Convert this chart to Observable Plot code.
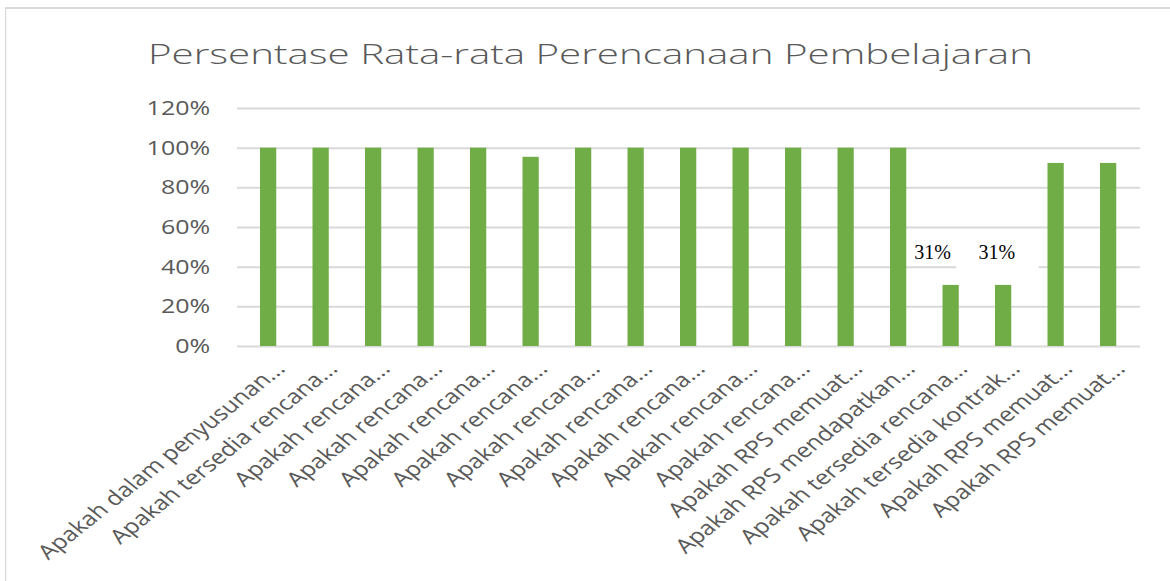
<!DOCTYPE html>
<html>
<head>
<meta charset="utf-8">
<script src="https://cdn.jsdelivr.net/npm/d3@7"></script>
<script src="https://cdn.jsdelivr.net/npm/@observablehq/plot@0.6"></script>
<style>
  html, body { margin: 0; padding: 0; background: #fff; }
  body { width: 1170px; height: 581px; overflow: hidden; }
  #wrap { position: relative; width: 936px; height: 581px; transform: scaleX(1.25); transform-origin: 0 0; }
  #frame { position: absolute; left: 4.4px; top: 7px; width: 1000px; height: 700px;
           border-left: 1.8px solid #d9d9d9; border-top: 2.5px solid #d9d9d9; }
  #title { position: absolute; left: 0; top: 0; }
  #chart { position: absolute; left: 0; top: 90px; }
</style>
</head>
<body>
<div id="wrap">
  <div id="frame"></div>
  <svg id="title" width="936" height="90">
    <text x="118.4" y="64" textLength="708" lengthAdjust="spacingAndGlyphs"
          font-family="Open Sans" font-weight="300" font-size="28" fill="#595959">Persentase Rata-rata Perencanaan Pembelajaran</text>
  </svg>
  <div id="chart"></div>
</div>
<script>
// ---- data ----
const categories = [
  "Apakah dalam penyusunan...",
  "Apakah tersedia rencana...",
  "Apakah rencana...",
  "Apakah rencana...",
  "Apakah rencana...",
  "Apakah rencana...",
  "Apakah rencana...",
  "Apakah rencana...",
  "Apakah rencana...",
  "Apakah rencana...",
  "Apakah rencana...",
  "Apakah RPS memuat...",
  "Apakah RPS mendapatkan...",
  "Apakah tersedia rencana...",
  "Apakah tersedia kontrak...",
  "Apakah RPS memuat...",
  "Apakah RPS memuat..."
];
const values = [100, 100, 100, 100, 100, 95.4, 100, 100, 100, 100, 100, 100, 100, 30.8, 30.8, 92.3, 92.3];
const yTicks = [0, 20, 40, 60, 80, 100, 120];
const labelledBars = [13, 14];

const data = categories.map((c, i) => ({i, label: c, value: values[i]}));
const lab1 = [data[labelledBars[0]]];
const lab2 = [data[labelledBars[1]]];

const chart = Plot.plot({
  width: 936,
  height: 491,
  marginLeft: 189.6,
  marginRight: 24,
  marginTop: 18,
  marginBottom: 235,
  style: {fontFamily: "Open Sans", fontSize: "20px", color: "#595959", background: "transparent"},
  x: {type: "band", domain: d3.range(categories.length), paddingInner: 0.7, paddingOuter: 0.35},
  y: {domain: [0, 120]},
  marks: [
    Plot.ruleY(yTicks, {stroke: "#d9d9d9", strokeWidth: 2}),
    Plot.barY(lab2, {x: "i", y: "value", fill: "white", insetTop: -29, insetBottom: 74, insetLeft: -31, insetRight: -22}),
    Plot.barY(data, {x: "i", y: "value", fill: "#70ad47"}),
    Plot.text(lab1, {x: "i", y: "value", text: d => Math.round(d.value) + "%", dx: -15, dy: -33,
      fontFamily: "Liberation Serif", fontSize: 20, fill: "black", className: "dlabel"}),
    Plot.text(lab2, {x: "i", y: "value", text: d => Math.round(d.value) + "%", dx: -5.6, dy: -33,
      fontFamily: "Liberation Serif", fontSize: 20, fill: "black", className: "dlabel"}),
    Plot.axisY({ticks: yTicks, tickFormat: d => d + "%", tickSize: 0, tickPadding: 22, fontSize: 20, label: null}),
    Plot.axisX({tickFormat: i => categories[i], tickRotate: -45, tickSize: 0, tickPadding: 8, dx: 9.5, dy: 11, fontSize: 20, label: null})
  ]
});
// the value labels sit unstretched on the stretched chart: undo the horizontal stretch for them
chart.querySelectorAll(".dlabel text").forEach(t => {
  const tr = t.getAttribute("transform");
  if (tr) {
    t.setAttribute("transform", tr + " scale(0.8,1)");
  } else {
    const x = t.getAttribute("x") || 0, y = t.getAttribute("y") || 0;
    t.setAttribute("x", 0); t.setAttribute("y", 0);
    t.setAttribute("transform", `translate(${x},${y}) scale(0.8,1)`);
  }
});
document.getElementById("chart").appendChild(chart);
</script>
</body>
</html>
